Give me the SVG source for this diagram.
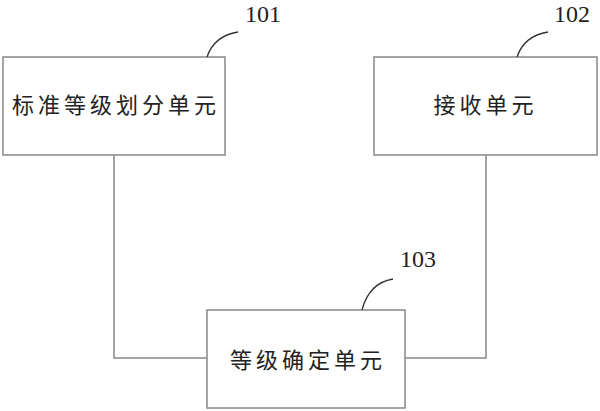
<svg xmlns="http://www.w3.org/2000/svg" width="600" height="411" viewBox="0 0 600 411">
<style>
.box{fill:#fff;stroke:#888;stroke-width:1.5}
.lbl{font-family:"Noto Sans CJK SC","Noto Sans",sans-serif;font-size:22px;letter-spacing:4px;fill:#222;text-anchor:middle;dominant-baseline:central}
.num{font-family:"Liberation Serif",serif;font-size:24px;fill:#222;text-anchor:middle}
.lead{fill:none;stroke:#333;stroke-width:1.3}
.conn{fill:none;stroke:#888;stroke-width:1.5}
</style>
<rect width="600" height="411" fill="#fff"/>
<g id="connectors">
<polyline class="conn" points="114,155 114,358 207,358"/>
<polyline class="conn" points="486,155 486,358 405,358"/>
</g>
<g id="node101">
<rect class="box" x="3" y="57" width="222" height="98"/>
<text class="lbl" x="116" y="103">标准等级划分单元</text>
<path class="lead" d="M207,57 Q214,36 238,32"/>
<text class="num" x="263" y="22">101</text>
</g>
<g id="node102">
<rect class="box" x="374" y="57" width="223" height="98"/>
<text class="lbl" x="485.5" y="103">接收单元</text>
<path class="lead" d="M517,57 Q524,36 548,32"/>
<text class="num" x="572" y="22">102</text>
</g>
<g id="node103">
<rect class="box" x="207" y="310" width="198" height="98"/>
<text class="lbl" x="308" y="358">等级确定单元</text>
<path class="lead" d="M362,310 Q369,283 393,279"/>
<text class="num" x="418" y="267">103</text>
</g>
</svg>
